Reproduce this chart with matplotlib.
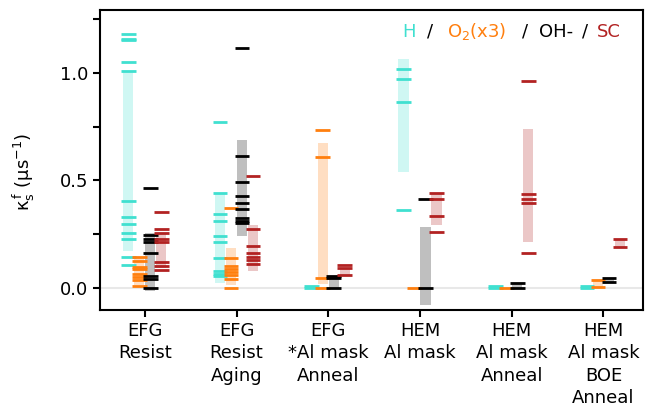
import matplotlib.pyplot as plt

plt.rcParams['font.family'] = ['DejaVu Sans']
plt.rcParams['mathtext.fontset'] = 'dejavusans'

groups = ['EFG\nResist', 'EFG\nResist\nAging', 'EFG\n*Al mask\nAnneal',
          'HEM\nAl mask', 'HEM\nAl mask\nAnneal', 'HEM\nAl mask\nBOE\nAnneal']

# individual measurements (one dash each)
h_pts = [[1.183, 1.160, 1.152, 1.053, 1.011, 0.406, 0.327, 0.296, 0.257, 0.229, 0.141, 0.104],
         [0.771, 0.439, 0.344, 0.310, 0.239, 0.214, 0.138, 0.076, 0.065, 0.053],
         [0.0, 0.007],
         [1.017, 0.972, 0.864, 0.360],
         [0.0, 0.007],
         [0.0, 0.007]]
o2_pts = [[0.141, 0.126, 0.098, 0.087, 0.064, 0.048, 0.037, 0.009],
          [0.371, 0.140, 0.099, 0.085, 0.075, 0.060, 0.039, 0.0],
          [0.733, 0.608, 0.045, 0.0],
          [0.0],
          [0.0],
          [0.037, 0.005]]
oh_pts = [[0.464, 0.245, 0.228, 0.213, 0.160, 0.056, 0.040, 0.0],
          [1.118, 0.611, 0.494, 0.429, 0.395, 0.367, 0.324, 0.310, 0.301],
          [0.056, 0.044, 0.0],
          [0.414, 0.0],
          [0.023, 0.0],
          [0.045, 0.025]]
sc_pts = [[0.352, 0.275, 0.255, 0.225, 0.212, 0.120, 0.101, 0.084],
          [0.519, 0.274, 0.192, 0.161, 0.145, 0.128, 0.112],
          [0.106, 0.093, 0.059],
          [0.443, 0.414, 0.336, 0.260],
          [0.963, 0.436, 0.415, 0.395, 0.164],
          [0.228, 0.191]]

# shaded spread (low, high)
h_bar = [(0.169, 1.003), (0.022, 0.440), None, (0.541, 1.065), None, None]
o2_bar = [(0.015, 0.140), (0.011, 0.185), (0.019, 0.676), None, None, (0.005, 0.037)]
oh_bar = [(-0.017, 0.254), (0.242, 0.688), (0.0, 0.044), (-0.079, 0.284), (0.0, 0.023), (0.025, 0.045)]
sc_bar = [(0.092, 0.254), (0.076, 0.293), (0.059, 0.090), (0.290, 0.437), (0.211, 0.740), (0.191, 0.228)]

series = [(h_pts, h_bar, '#40e0d0'),
          (o2_pts, o2_bar, '#ff7f0e'),
          (oh_pts, oh_bar, 'black'),
          (sc_pts, sc_bar, '#b22222')]
offsets = [-0.18, -0.06, 0.06, 0.18]

fig = plt.figure(figsize=(6.59, 4.08), dpi=100)
ax = fig.add_axes([0.152, 0.240, 0.824, 0.735])

ax.axhline(0, color='#e8e8e8', lw=1.5, zorder=0)

for k, (pts, bars, col) in enumerate(series):
    for i in range(len(groups)):
        x = i + offsets[k]
        if bars[i] is not None:
            lo, hi = bars[i]
            ax.bar(x, hi - lo, bottom=lo, width=0.11, color=col, alpha=0.25,
                   lw=0, zorder=1)
        ax.hlines(pts[i], x - 0.08, x + 0.08, color=col, lw=2, zorder=2)

ax.set_xlim(-0.487, 5.433)
ax.set_ylim(-0.104, 1.292)
ax.set_xticks(range(len(groups)))
ax.set_xticklabels(groups, fontsize=13, linespacing=1.32)
ax.set_yticks([0, 0.5, 1.0])
ax.set_yticks([0.25, 0.75, 1.25], minor=True)
ax.tick_params(axis='both', which='both', length=5, width=1.5, labelsize=13)
for s in ax.spines.values():
    s.set_linewidth(1.5)

ax.set_ylabel(r'κ$_\mathregular{s}^\mathregular{\,f}$ (μs$^\mathregular{-1}$)', fontsize=13)
ax.yaxis.set_label_coords(-0.117, 0.462)

# coloured header
parts = [('H', '#40e0d0', 0.556), ('/', 'black', 0.602), (r'O$_2$(x3)', '#ff7f0e', 0.638),
         ('/', 'black', 0.776), ('OH-', 'black', 0.809), ('/', 'black', 0.887),
         ('SC', '#b22222', 0.915)]
for txt, col, xp in parts:
    ax.text(xp, 0.911, txt, color=col, fontsize=13, transform=ax.transAxes,
            ha='left', va='baseline')

fig.savefig('out.png', dpi=100)
